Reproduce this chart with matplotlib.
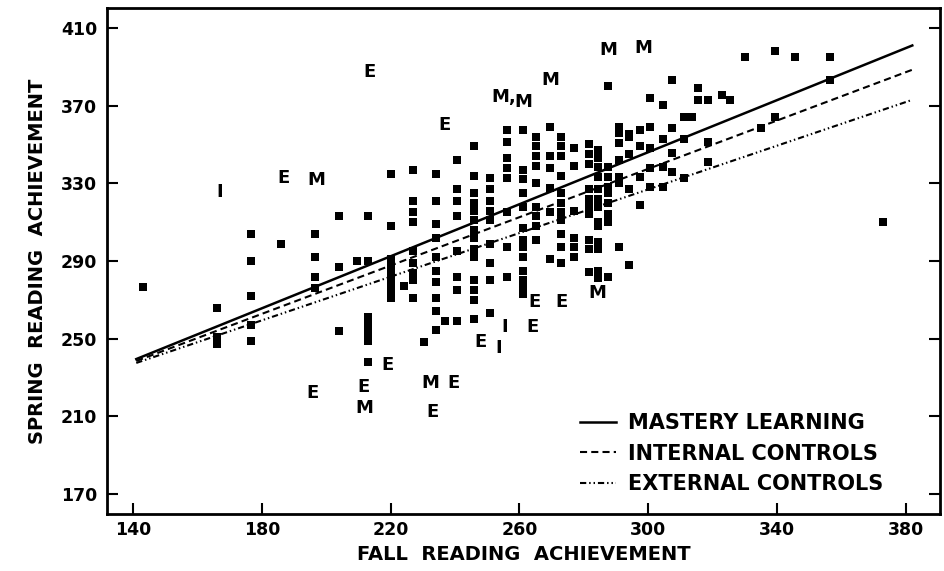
import matplotlib

matplotlib.use("Agg")
import matplotlib.pyplot as plt
import numpy as np

plt.rcParams.update(
    {
        "font.family": "DejaVu Sans",
        "font.weight": "bold",
        "axes.linewidth": 2.0,
    }
)

# fall score columns and the spring scores stacked in each column
fall_columns = [
    143, 166, 176.5, 186, 196.5, 204, 209.5, 213, 220, 224, 227, 230.5, 234, 237,
    240.5, 246, 251, 256, 261, 265, 269.5, 273, 277, 281.5, 284.5, 287.5, 291,
    294, 297.5, 300.5, 304.5, 307.5, 311, 313.5, 315.5, 318.5, 323, 325.5, 330,
    335, 339.5, 345.5, 356.5, 373,
]
spring_columns = [
    [276.5],
    [266, 251, 247],
    [304, 290, 272, 257, 249],
    [299],
    [304, 292, 282, 276],
    [313, 287, 254],
    [290],
    [313, 290, 261, 257, 253, 249, 238],
    [335, 308, 291, 287, 283, 279, 275, 271],
    [277],
    [337, 321, 315, 310, 295, 289, 284, 280, 271],
    [248.5],
    [335, 321, 309, 302, 292, 285, 279, 271, 264, 254.5],
    [259],
    [342, 327, 321, 313, 295, 282, 275, 259],
    [349, 334, 325, 320, 316, 311, 306, 302, 296, 292, 280, 275, 270, 260],
    [333, 327, 321, 316, 311, 299, 289, 280, 263],
    [357.5, 351.5, 343, 338, 333, 315, 297, 282],
    [357.5, 337, 332, 325, 318, 307, 301, 297, 292, 285, 280, 276, 273],
    [354, 349, 344, 339, 330, 318, 313, 308, 301],
    [359, 344, 338, 327.5, 315, 291],
    [354, 349, 344, 334, 325, 320, 315, 311, 304, 297, 289],
    [348, 339, 316, 302, 297, 292],
    [350.5, 345, 340, 327, 322, 318, 314, 301, 296, 284.5],
    [347, 343, 338.5, 333.5, 327, 322, 318, 310, 308, 300, 296, 285, 281],
    [380, 338.5, 333.5, 328, 325, 320, 314, 310, 282],
    [359, 356, 351, 342, 333.5, 330, 297],
    [355.5, 354, 345, 327, 288],
    [357.5, 349, 333.5, 319],
    [374, 359, 348, 338, 328],
    [370.5, 353, 338.5, 328],
    [383, 358.5, 345.5, 336],
    [364, 353, 332.5],
    [364],
    [379, 373],
    [373, 351.5, 341],
    [375.5],
    [373],
    [395],
    [358.5],
    [398, 364],
    [395],
    [395, 383],
    [310],
]

# letter-coded cases
letter_labels = ["E", "I", "E", "M", "E", "M,", "M", "M", "M", "M", "E", "E", "M",
                 "E", "I", "E", "I", "E", "E", "E", "M", "M", "E", "E"]
letter_fall = [213.3, 167, 186.6, 196.8, 236.6, 255.2, 261.1, 269.5, 287.5, 298.4,
               264.8, 273.2, 284.1, 264.2, 255.5, 247.8, 253.4, 218.9, 195.6, 211.7,
               211.7, 232.2, 239.4, 232.9]
letter_spring = [387.3, 325.5, 332.8, 331.7, 360, 374.5, 371.9, 383, 398.7, 399.7,
                 268.9, 268.9, 273.5, 256, 256, 248.3, 245, 236.5, 222, 225,
                 214.3, 227.2, 227.2, 212.3]

# regression line end points
fit_fall = [141, 382]
mastery_fit = [239.5, 401]
internal_fit = [238.5, 388.5]
external_fit = [237.5, 373]

fall = np.concatenate([[x] * len(ys) for x, ys in zip(fall_columns, spring_columns)])
spring = np.concatenate(spring_columns)

fig = plt.figure(figsize=(9.45, 5.71), dpi=100)
ax = fig.add_axes([0.1132, 0.0998, 0.8815, 0.8862])

ax.scatter(fall, spring, marker="s", s=26, color="black", linewidths=0, zorder=3)
for lab, x, y in zip(letter_labels, letter_fall, letter_spring):
    ax.text(x, y, lab, ha="center", va="center", fontsize=13, fontweight="bold")

ax.plot(fit_fall, mastery_fit, color="black", lw=1.8, label="MASTERY LEARNING")
ax.plot(fit_fall, internal_fit, color="black", lw=1.5, dashes=(3.4, 2.0),
        label="INTERNAL CONTROLS")
ax.plot(fit_fall, external_fit, color="black", lw=1.5,
        dashes=(3.0, 1.4, 0.7, 1.4, 0.7, 1.4), label="EXTERNAL CONTROLS")

ax.set_xlim(131.9, 390.6)
ax.set_ylim(159.7, 420.3)
ax.set_xticks(np.arange(140, 381, 40))
ax.set_yticks(np.arange(170, 411, 40))
ax.tick_params(direction="in", length=8, width=1.5, labelsize=12.5, pad=5,
               right=True)
ax.tick_params(axis="y", pad=7)

ax.set_xlabel("FALL  READING  ACHIEVEMENT", fontsize=14, fontweight="bold", labelpad=4)
ax.set_ylabel("SPRING  READING  ACHIEVEMENT", fontsize=14, fontweight="bold", labelpad=10)

ax.legend(loc="upper left", bbox_to_anchor=(0.568, 0.199), frameon=False,
          fontsize=15, handlelength=1.7, handletextpad=0.6, labelspacing=0.5,
          borderpad=0, borderaxespad=0)

fig.savefig("out.png", dpi=100, facecolor="white")
